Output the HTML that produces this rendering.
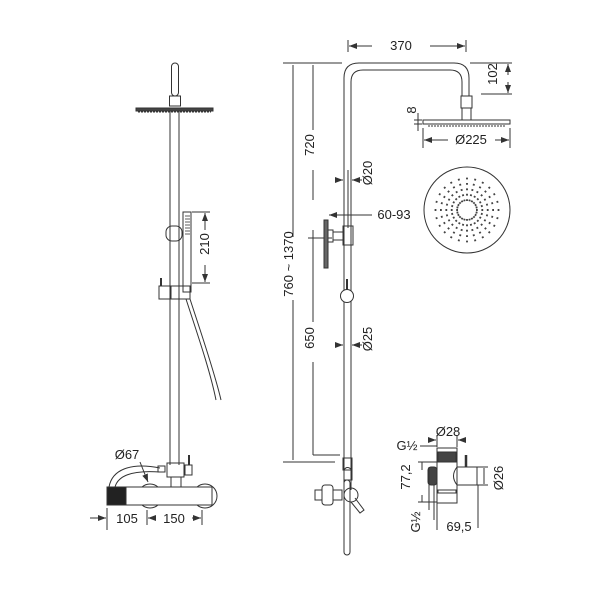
<!DOCTYPE html>
<html><head><meta charset="utf-8"><style>
html,body{margin:0;padding:0;background:#fff}
svg{display:block}
text{font-family:"Liberation Sans",sans-serif;font-size:13px;fill:#222}
</style></head><body>
<svg width="600" height="600" viewBox="0 0 600 600" xmlns="http://www.w3.org/2000/svg">
<defs>
<marker id="a" markerWidth="8" markerHeight="6" refX="8" refY="3" orient="auto"><path d="M0,0 L8,3 L0,6z" fill="#333"/></marker>
<line id="ray" x1="467" y1="201" x2="467" y2="174" stroke="#444" stroke-width="1.9" stroke-dasharray="1.8,3.6"/>
</defs>
<g fill="none" stroke="#333" stroke-width="1">
<rect x="171.5" y="63" width="7" height="33" rx="3.5"/>
<rect x="169.5" y="96" width="11" height="10"/>
<rect x="136" y="108" width="77" height="3" fill="#444"/>
<line x1="138" y1="112" x2="211" y2="112" stroke-dasharray="2,1"/>
<line x1="170" y1="111" x2="170" y2="465"/>
<line x1="179" y1="111" x2="179" y2="465"/>
<rect x="166" y="226" width="16" height="15" rx="6"/>
<rect x="183" y="212" width="8" height="80"/>
<g stroke-width="0.8"><line x1="185" y1="216" x2="190" y2="216"/><line x1="185" y1="219" x2="190" y2="219"/><line x1="185" y1="222" x2="190" y2="222"/><line x1="185" y1="225" x2="190" y2="225"/><line x1="185" y1="228" x2="190" y2="228"/><line x1="185" y1="231" x2="190" y2="231"/><line x1="185" y1="234" x2="190" y2="234"/></g>
<rect x="159" y="286" width="12" height="13"/>
<line x1="161" y1="278" x2="161" y2="286" stroke-width="2"/>
<rect x="170" y="286" width="20" height="13"/>
<path d="M186,299 C196,330 210,370 216,400"/>
<path d="M190,299 C200,330 214,370 221,400"/>
<line x1="192" y1="212" x2="210" y2="212"/><line x1="192" y1="283" x2="210" y2="283"/>
<line x1="205" y1="230" x2="205" y2="213" marker-end="url(#a)"/>
<line x1="205" y1="265" x2="205" y2="282" marker-end="url(#a)"/>
<path d="M109,487 C112,470 130,462 160,468"/>
<path d="M115,487 C118,476 132,470 160,472"/>
<rect x="158" y="466" width="7" height="6"/>
<rect x="167" y="463" width="17" height="14"/>
<rect x="171" y="477" width="10" height="10"/>
<rect x="185" y="465" width="7" height="10"/>
<line x1="189" y1="455" x2="189" y2="465" stroke-width="2"/>
<circle cx="150" cy="496" r="12"/>
<circle cx="205" cy="496" r="12"/>
<rect x="107" y="487" width="105" height="18" fill="#fff"/>
<rect x="107" y="487" width="19" height="18" fill="#222"/>
<line x1="140" y1="462" x2="148" y2="482" marker-end="url(#a)"/>
<line x1="107" y1="508" x2="107" y2="530"/><line x1="147" y1="510" x2="147" y2="525"/><line x1="202" y1="510" x2="202" y2="525"/>
<line x1="90" y1="518" x2="106" y2="518" marker-end="url(#a)"/>
<line x1="155" y1="518" x2="148" y2="518" marker-end="url(#a)"/>
<line x1="192" y1="518" x2="201" y2="518" marker-end="url(#a)"/>
<path d="M344,490 L344,78 Q344,63 359,63 L454,63 Q469,63 469,78 L469,96"/>
<path d="M351,490 L351,82 Q351,70 363,70 L450,70 Q462,70 462,82 L462,96"/>
<rect x="461" y="96" width="11" height="12"/>
<rect x="462" y="108" width="9" height="12"/>
<rect x="423" y="120" width="87" height="4"/>
<line x1="428" y1="126" x2="505" y2="126" stroke-dasharray="2,1"/>
<line x1="348" y1="40" x2="348" y2="52"/><line x1="466" y1="40" x2="466" y2="52"/>
<line x1="372" y1="46" x2="349" y2="46" marker-end="url(#a)"/>
<line x1="430" y1="46" x2="465" y2="46" marker-end="url(#a)"/>
<line x1="470" y1="63" x2="512" y2="63"/><line x1="481" y1="94" x2="512" y2="94"/>
<line x1="508" y1="75" x2="508" y2="64" marker-end="url(#a)"/><line x1="508" y1="82" x2="508" y2="93" marker-end="url(#a)"/>
<line x1="414" y1="120" x2="422" y2="120"/><line x1="414" y1="124" x2="422" y2="124"/>
<line x1="418" y1="113" x2="418" y2="131"/>
<line x1="423" y1="128" x2="423" y2="148"/><line x1="510" y1="128" x2="510" y2="148"/>
<line x1="448" y1="140" x2="424" y2="140" marker-end="url(#a)"/>
<line x1="495" y1="140" x2="509" y2="140" marker-end="url(#a)"/>
<circle cx="467" cy="210" r="43"/>
<line x1="283" y1="63" x2="342" y2="63"/>
<line x1="293" y1="65" x2="293" y2="237"/><line x1="293" y1="300" x2="293" y2="460"/>
<line x1="313" y1="65" x2="313" y2="130"/><line x1="313" y1="170" x2="313" y2="200"/>
<line x1="313" y1="230" x2="313" y2="322"/><line x1="313" y1="362" x2="313" y2="455"/>
<line x1="283" y1="462" x2="335" y2="462"/><line x1="313" y1="455" x2="340" y2="455"/>
<line x1="308" y1="238" x2="332" y2="238"/>
<line x1="335" y1="180" x2="343" y2="180" marker-end="url(#a)"/><line x1="362" y1="180" x2="352" y2="180" marker-end="url(#a)"/>
<line x1="348" y1="170" x2="348" y2="228"/>
<line x1="360" y1="215" x2="329" y2="215" marker-end="url(#a)"/>
<line x1="340" y1="215" x2="372" y2="215"/>
<rect x="324" y="220" width="4" height="48" fill="#666"/>
<rect x="328" y="230" width="5" height="12"/>
<rect x="333" y="232" width="10" height="8"/>
<rect x="343" y="226" width="10" height="19"/>
<line x1="347" y1="279" x2="347" y2="291" stroke-width="2"/>
<circle cx="347" cy="296" r="6.5" fill="#fff"/>
<line x1="335" y1="345" x2="343" y2="345" marker-end="url(#a)"/><line x1="362" y1="345" x2="352" y2="345" marker-end="url(#a)"/>
<rect x="343" y="458" width="9" height="12"/>
<path d="M344,470 Q347,465 352,470 L352,480 L344,480z"/>
<rect x="344" y="480" width="6" height="75" rx="3"/>
<circle cx="351" cy="495" r="7"/>
<path d="M355,498 L364,510 L360,513 L351,502"/>
<rect x="333" y="490" width="9" height="10"/>
<rect x="322" y="485" width="11" height="20" rx="3"/>
<rect x="315" y="490" width="7" height="10"/>
<rect x="437" y="448" width="20" height="55"/>
<rect x="438" y="452" width="18" height="10" fill="#444"/>
<rect x="438" y="490" width="18" height="3"/>
<rect x="428" y="467" width="9" height="18" rx="3" fill="#444"/>
<path d="M457,467 Q450,476 457,485"/>
<rect x="457" y="467" width="20" height="18"/>
<line x1="466" y1="455" x2="466" y2="467" stroke-width="2.5"/>
<line x1="437" y1="435" x2="437" y2="447"/><line x1="457" y1="435" x2="457" y2="447"/>
<line x1="430" y1="440" x2="436" y2="440" marker-end="url(#a)"/><line x1="464" y1="440" x2="458" y2="440" marker-end="url(#a)"/>
<line x1="420" y1="446" x2="437" y2="446"/>
<line x1="418" y1="462" x2="437" y2="462"/><line x1="418" y1="502" x2="437" y2="502"/>
<line x1="422" y1="462" x2="422" y2="470"/><line x1="422" y1="495" x2="422" y2="502"/>
<line x1="429" y1="467" x2="429" y2="510"/><line x1="434" y1="485" x2="434" y2="520"/>
<line x1="477" y1="467" x2="488" y2="467"/><line x1="477" y1="485" x2="488" y2="485"/>
<line x1="484" y1="468" x2="484" y2="484"/>
<line x1="478" y1="485" x2="478" y2="528"/>
<line x1="437" y1="503" x2="437" y2="530"/>
</g>
<g>
<use href="#ray" transform="rotate(0 467 210)"/><use href="#ray" transform="rotate(15 467 210)"/><use href="#ray" transform="rotate(30 467 210)"/><use href="#ray" transform="rotate(45 467 210)"/>
<use href="#ray" transform="rotate(60 467 210)"/><use href="#ray" transform="rotate(75 467 210)"/><use href="#ray" transform="rotate(90 467 210)"/><use href="#ray" transform="rotate(105 467 210)"/>
<use href="#ray" transform="rotate(120 467 210)"/><use href="#ray" transform="rotate(135 467 210)"/><use href="#ray" transform="rotate(150 467 210)"/><use href="#ray" transform="rotate(165 467 210)"/>
<use href="#ray" transform="rotate(180 467 210)"/><use href="#ray" transform="rotate(195 467 210)"/><use href="#ray" transform="rotate(210 467 210)"/><use href="#ray" transform="rotate(225 467 210)"/>
<use href="#ray" transform="rotate(240 467 210)"/><use href="#ray" transform="rotate(255 467 210)"/><use href="#ray" transform="rotate(270 467 210)"/><use href="#ray" transform="rotate(285 467 210)"/>
<use href="#ray" transform="rotate(300 467 210)"/><use href="#ray" transform="rotate(315 467 210)"/><use href="#ray" transform="rotate(330 467 210)"/><use href="#ray" transform="rotate(345 467 210)"/>
</g>
<text x="214" y="249" transform="rotate(-90 209 249)" text-anchor="middle">210</text>
<text x="127" y="459" text-anchor="middle">Ø67</text>
<text x="127" y="523" text-anchor="middle">105</text>
<text x="174" y="523" text-anchor="middle">150</text>
<text x="401" y="50" text-anchor="middle">370</text>
<text x="502" y="79" transform="rotate(-90 497 79)" text-anchor="middle">102</text>
<text x="420" y="114" transform="rotate(-90 416 114)" text-anchor="middle">8</text>
<text x="471" y="144" text-anchor="middle">Ø225</text>
<text x="319" y="150" transform="rotate(-90 314 150)" text-anchor="middle">720</text>
<text x="377" y="178" transform="rotate(-90 372 178)" text-anchor="middle">Ø20</text>
<text x="394" y="219" text-anchor="middle">60-93</text>
<text x="298" y="269" transform="rotate(-90 293 269)" text-anchor="middle">760 ~ 1370</text>
<text x="319" y="343" transform="rotate(-90 314 343)" text-anchor="middle">650</text>
<text x="377" y="344" transform="rotate(-90 372 344)" text-anchor="middle">Ø25</text>
<text x="448" y="436" text-anchor="middle">Ø28</text>
<text x="407" y="450" text-anchor="middle">G½</text>
<text x="415" y="482" transform="rotate(-90 410 482)" text-anchor="middle">77,2</text>
<text x="508" y="483" transform="rotate(-90 503 483)" text-anchor="middle">Ø26</text>
<text x="425" y="527" transform="rotate(-90 420 527)" text-anchor="middle">G½</text>
<text x="459" y="531" text-anchor="middle">69,5</text>
</svg>
</body></html>
